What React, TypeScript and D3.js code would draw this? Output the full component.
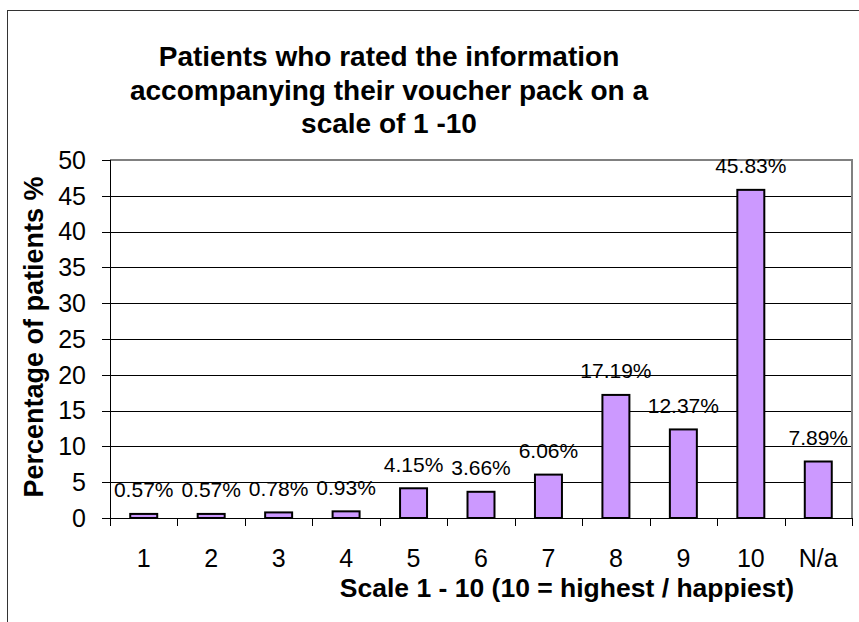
import React from "react";
import * as d3 from "d3";

// values
const categories = ["1", "2", "3", "4", "5", "6", "7", "8", "9", "10", "N/a"];
const percentages = [0.57, 0.57, 0.78, 0.93, 4.15, 3.66, 6.06, 17.19, 12.37, 45.83, 7.89];
const yTicks = [0, 5, 10, 15, 20, 25, 30, 35, 40, 45, 50];
const titleLines = [
  "Patients who rated the information",
  "accompanying their voucher pack on a",
  "scale of 1 -10",
];

const width = 859,
  height = 622;
const plot = { left: 110, right: 852, top: 160, bottom: 518 };
const font = "'Liberation Sans', Arial, sans-serif";

export default function App() {
  const xScale = d3
    .scaleBand<string>()
    .domain(categories)
    .range([plot.left, plot.right])
    .padding(0);

  const yScale = d3.scaleLinear().domain([0, 50]).range([plot.bottom, plot.top]);

  const bw = xScale.bandwidth() * 0.4;
  const tickEdges = categories.map((c) => xScale(c)!).concat([plot.right]);

  return (
    <svg
      width={width}
      height={height}
      style={{ position: "absolute", left: 0, top: 0, background: "#fff" }}
      fontFamily={font}
    >
      {/* chart frame, runs past the crop on the right and bottom */}
      <rect x={7.5} y={10.5} width={900} height={700} fill="white" stroke="#333" strokeWidth={1} />

      {/* title */}
      {titleLines.map((t, i) => (
        <text
          key={i}
          x={389}
          y={66 + i * 33.5}
          textAnchor="middle"
          fontSize={28}
          fontWeight="bold"
        >
          {t}
        </text>
      ))}

      {/* gridlines */}
      {yTicks
        .filter((t) => t > 0 && t < 50)
        .map((t) => (
          <line
            key={t}
            x1={plot.left}
            x2={plot.right}
            y1={Math.round(yScale(t)) + 0.5}
            y2={Math.round(yScale(t)) + 0.5}
            stroke="#000"
            strokeWidth={1}
          />
        ))}

      {/* plot area border top/right */}
      <path
        d={`M${plot.left},${plot.top}H${plot.right}V${plot.bottom}`}
        fill="none"
        stroke="#808080"
        strokeWidth={2}
      />

      {/* bars */}
      {percentages.map((v, i) => {
        const cx = xScale(categories[i])! + xScale.bandwidth() / 2;
        return (
          <rect
            key={i}
            x={cx - bw / 2}
            y={yScale(v)}
            width={bw}
            height={yScale(0) - yScale(v)}
            fill="#CC99FF"
            stroke="#000"
            strokeWidth={2}
          />
        );
      })}

      {/* data labels */}
      {percentages.map((v, i) => {
        const cx = xScale(categories[i])! + xScale.bandwidth() / 2;
        return (
          <text key={i} x={cx} y={yScale(v) - 16.5} textAnchor="middle" fontSize={21}>
            {v.toFixed(2)}%
          </text>
        );
      })}

      {/* y axis */}
      <line x1={plot.left + 0.5} x2={plot.left + 0.5} y1={plot.top} y2={plot.bottom} stroke="#000" />
      {yTicks.map((t) => (
        <g key={t}>
          <line
            x1={plot.left - 8}
            x2={plot.left}
            y1={Math.round(yScale(t)) + 0.5}
            y2={Math.round(yScale(t)) + 0.5}
            stroke="#000"
          />
          <text x={86} y={yScale(t)} dy="0.35em" textAnchor="end" fontSize={25}>
            {t}
          </text>
        </g>
      ))}

      {/* x axis */}
      <line x1={plot.left} x2={plot.right} y1={plot.bottom + 0.5} y2={plot.bottom + 0.5} stroke="#000" />
      {tickEdges.map((x, i) => (
        <line
          key={i}
          x1={Math.round(x) + 0.5}
          x2={Math.round(x) + 0.5}
          y1={plot.bottom}
          y2={plot.bottom + 8}
          stroke="#000"
        />
      ))}
      {categories.map((c) => (
        <text
          key={c}
          x={xScale(c)! + xScale.bandwidth() / 2}
          y={567}
          textAnchor="middle"
          fontSize={25}
        >
          {c}
        </text>
      ))}

      {/* axis titles */}
      <text x={567} y={597} textAnchor="middle" fontSize={26.5} fontWeight="bold">
        Scale 1 - 10 (10 = highest / happiest)
      </text>
      <text
        transform={`translate(43,337) rotate(-90)`}
        textAnchor="middle"
        fontSize={27}
        fontWeight="bold"
      >
        Percentage of patients %
      </text>
    </svg>
  );
}
